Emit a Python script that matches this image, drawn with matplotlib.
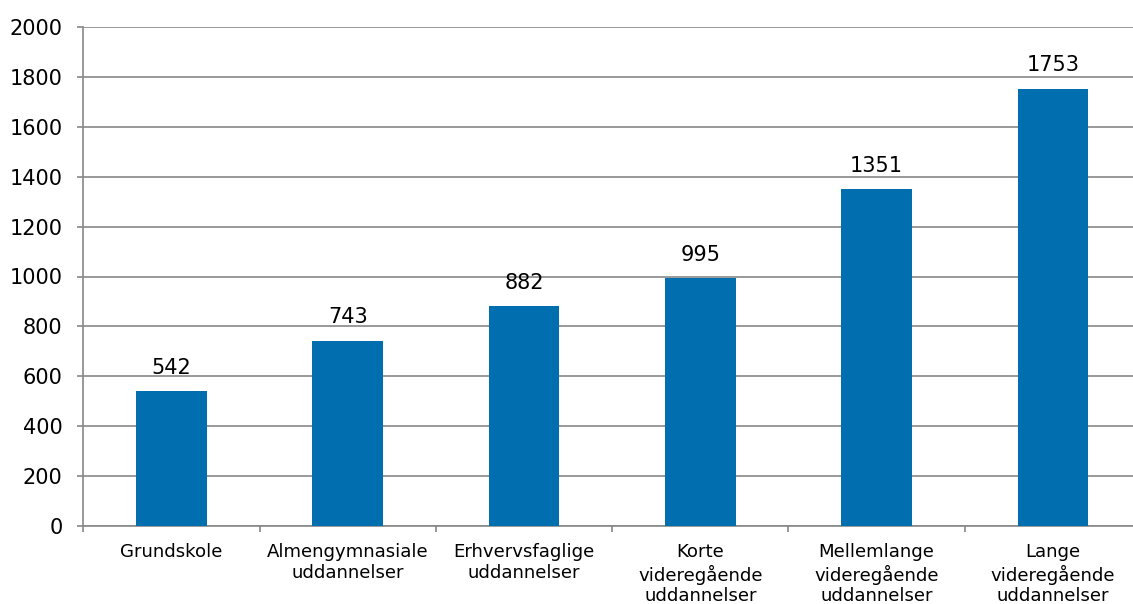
import matplotlib
matplotlib.use("Agg")
import matplotlib.pyplot as plt

categories = ["Grundskole", "Almengymnasiale\nuddannelser", "Erhvervsfaglige\nuddannelser",
              "Korte\nvideregående\nuddannelser", "Mellemlange\nvideregående\nuddannelser",
              "Lange\nvideregående\nuddannelser"]
values = [542, 743, 882, 995, 1351, 1753]
yticks = list(range(0, 2001, 200))

plt.rcParams['font.family'] = ['DejaVu Sans']
fig = plt.figure(figsize=(11.33, 6.04), dpi=100)
ax = fig.add_axes([83.3/1133, 78/604, (1141 - 83.3)/1133, (526-27)/604])

x = list(range(len(categories)))
bars = ax.bar(x, values, width=0.40, color="#006EAF", zorder=3)
for xi, v in zip(x, values):
    ax.annotate(str(v), (xi, v), xytext=(0, 9.5), textcoords="offset points",
                ha="center", va="bottom", fontsize=15, color="#000000")

ax.set_xlim(-0.5, len(categories) - 0.5)
ax.set_ylim(0, 2000)
ax.set_yticks(yticks)
ax.set_yticklabels([str(t) for t in yticks], fontsize=15)
ax.yaxis.grid(True, color="#888888", linewidth=1.2, zorder=0)
ax.set_xticks(x)
ax.set_xticklabels(categories, fontsize=13.1, linespacing=1.2)
ax.set_xticks([i - 0.5 for i in range(len(categories) + 1)], minor=True)
ax.tick_params(axis='x', which='major', length=0, pad=12.5)
ax.tick_params(axis='x', which='minor', length=4.5, color="#888888", width=1.2)
ax.tick_params(axis='y', length=4.5, color="#888888", width=1.2, pad=10.5)
for s in ["top", "right"]:
    ax.spines[s].set_visible(False)
for s in ["left", "bottom"]:
    ax.spines[s].set_color("#888888")
    ax.spines[s].set_linewidth(1.2)

fig.savefig("out.png", dpi=100)
